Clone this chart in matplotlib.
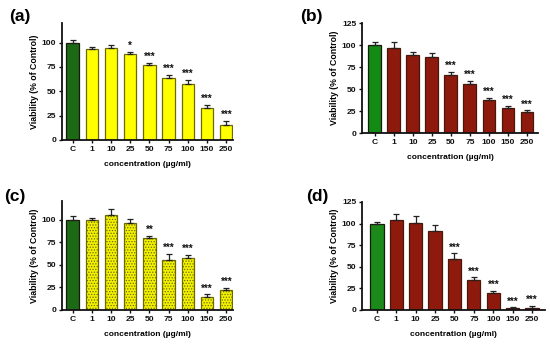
import matplotlib
matplotlib.use("Agg")
import matplotlib.pyplot as plt
import numpy as np

plt.rcParams['font.family'] = ['Liberation Sans', 'DejaVu Sans']
plt.rcParams['hatch.linewidth'] = 0.6

categories = ["C", "1", "10", "25", "50", "75", "100", "150", "250"]

a_vals = [100, 93.5, 94.5, 88.3, 77, 64, 57.4, 32.6, 15]
a_err = [2.5, 1.5, 3, 2.4, 2, 2.7, 4.5, 3.3, 4.5]
a_sig = ["", "", "", "*", "***", "***", "***", "***", "***"]

b_vals = [100.3, 96.9, 88.5, 86.2, 66.1, 56.2, 37.6, 28.9, 23.6]
b_err = [3, 7, 3.8, 4.6, 3.4, 3.1, 2.3, 2.1, 2.2]
b_sig = ["", "", "", "", "***", "***", "***", "***", "***"]

c_vals = [100, 100, 106, 97, 79.6, 56, 57.8, 14.8, 22.2]
c_err = [4.8, 2, 5.8, 3.7, 3, 6.6, 3.7, 2.6, 2.6]
c_sig = ["", "", "", "", "**", "***", "***", "***", "***"]

d_vals = [100, 104.6, 100.4, 92, 58.8, 35, 19.2, 2, 2]
d_err = [2, 7, 8.6, 6.8, 6.6, 3, 3.1, 1.2, 2.6]
d_sig = ["", "", "", "", "***", "***", "***", "***", "***"]

W, H = 550, 345
fig = plt.figure(figsize=(W / 100, H / 100), dpi=100)

def ax_at(l, r, t, b):
    return fig.add_axes([l / W, 1 - b / H, (r - l) / W, (b - t) / H])

def panel(ax, vals, err, sig, ctrl_color, bar_color, edge, ylim, yticks, xlim,
          width, hatch=None, label="", lab_xy=(0, 0)):
    x = np.arange(len(categories))
    colors = [ctrl_color] + [bar_color] * (len(categories) - 1)
    edges = ["#1a1a0a"] + [edge] * (len(categories) - 1)
    bars = ax.bar(x, vals, width=width, color=colors, edgecolor=edges,
                  linewidth=0.9, zorder=2)
    if hatch:
        for bb in bars[1:]:
            bb.set_hatch(hatch)
    ax.errorbar(x, vals, yerr=[np.zeros(len(vals)), err], fmt="none",
                ecolor="#222222", elinewidth=0.9, capsize=2.4, capthick=0.9,
                zorder=3)
    for xi, v, e, s in zip(x, vals, err, sig):
        if s:
            ax.text(xi, v + e + 0.8, s, ha="center", va="bottom",
                    fontsize=7, fontweight="bold", color="#111111")
    ax.set_ylim(*ylim)
    ax.set_xlim(*xlim)
    ax.set_yticks(yticks)
    ax.set_xticks(x)
    ax.set_xticklabels(categories)
    for sp in ["top", "right"]:
        ax.spines[sp].set_visible(False)
    for sp in ["left", "bottom"]:
        ax.spines[sp].set_linewidth(1.3)
        ax.spines[sp].set_color("#111111")
    ax.tick_params(axis="both", length=2.5, width=1.0, pad=1.5,
                   labelsize=6.1, colors="#111111")
    for t in ax.get_xticklabels() + ax.get_yticklabels():
        t.set_fontweight("bold")
    ax.set_ylabel("Viability (% of Control)", fontsize=6.3,
                  fontweight="bold", labelpad=2)
    ax.set_xlabel("concentration (µg/ml)", fontsize=6,
                  fontweight="bold", labelpad=6)
    fig.text(lab_xy[0] / W, 1 - lab_xy[1] / H, label, fontsize=12.5,
             fontweight="bold", ha="left", va="center")

yellow = "#ffff00"
olive = "#6e6a00"
maroon = "#8e1a0e"
brown = "#4a1808"

ax_a = ax_at(62, 233, 23, 140)
panel(ax_a, a_vals, a_err, a_sig, "#1d6a16", yellow, olive, (0, 120),
      [0, 25, 50, 75, 100], (-0.55, 8.35), 0.64, label="(a)", lab_xy=(9, 16))

ax_b = ax_at(362, 538, 23, 133)
panel(ax_b, b_vals, b_err, b_sig, "#138a13", maroon, brown, (0, 125),
      [0, 25, 50, 75, 100, 125], (-0.68, 8.58), 0.68, label="(b)",
      lab_xy=(300, 16))

ax_c = ax_at(62, 233, 201, 310)
panel(ax_c, c_vals, c_err, c_sig, "#1d6a16", "#f2f200", olive, (0, 121),
      [0, 25, 50, 75, 100], (-0.55, 8.35), 0.64, hatch="......",
      label="(c)", lab_xy=(4, 197))

ax_d = ax_at(362, 545, 202, 310)
panel(ax_d, d_vals, d_err, d_sig, "#1b8a1b", maroon, brown, (0, 125),
      [0, 25, 50, 75, 100, 125], (-0.77, 8.67), 0.68, label="(d)",
      lab_xy=(306, 197))

fig.savefig("out.png", dpi=100)
